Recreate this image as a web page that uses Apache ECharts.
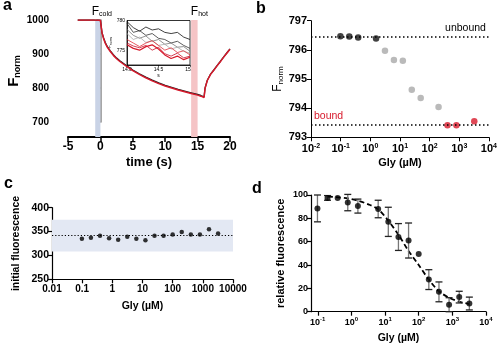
<!DOCTYPE html>
<html><head><meta charset="utf-8">
<script src="https://cdn.jsdelivr.net/npm/echarts@6/dist/echarts.min.js"></script>
<style>html,body{margin:0;padding:0;background:#fff}#c{width:500px;height:346px}</style>
</head><body><div id="c"></div>
<script>
// ---------- Panel a: traces ----------
const aTime  = [-3.5,-2,-1,0,0.25,0.5,0.75,1,1.5,2,2.5,3,4,5,6,7,8,9,10,11,12,13,14,15,15.5,16,16.15,16.5,17,17.5,18,18.5,19,19.5,20];
const aRed   = [1000,1000,1000,999,962,945,932,922,908,896,886,878,864,851,840,830,821,813,806,800,794,789,784,779,776,772,799,822,840,852,865,877,890,902,914];
const aBlack = [1000,1000,1000,999,963,947,934,924,910,898,888,880,866,853,842,832,823,815,808,802,796,791,786,781,778,774,800,823,841,853,866,878,891,903,915];
const aColdBand = [-0.8, 0];
const aHotBand  = [14, 15];
const aBandTop = 1000, aBandBottom = 656;
// ---------- Panel a: inset ----------
const insetT = [14.0,14.1,14.2,14.3,14.4,14.5,14.6,14.7,14.8,14.9,15.0];
const insetBlack1 = [779.8,778.8,778.2,778.9,778.4,778.6,778.0,777.8,778.0,777.2,776.8];
const insetBlack2 = [779.5,778.0,778.3,777.5,777.8,777.0,776.8,776.2,776.5,775.8,775.3];
const insetGray1  = [778.5,777.5,777.0,777.4,776.5,776.8,776.0,776.2,775.5,775.6,774.8];
const insetGray2  = [777.8,776.8,777.2,776.3,776.6,775.8,776.0,775.2,775.5,774.8,774.5];
const insetRed1   = [776.8,776.2,775.6,776.2,776.6,775.8,775.0,775.4,774.6,774.9,774.2];
const insetRed2   = [776.2,775.7,775.4,775.8,775.0,775.5,774.4,774.0,774.5,773.7,774.0];
const insetRed3   = [775.9,775.3,775.0,775.6,775.9,775.2,774.2,773.6,774.0,773.4,773.8];
// ---------- Panel b ----------
const bBlackX = [0.098,0.195,0.39,1.56];
const bBlackY = [796.47,796.46,796.42,796.39];
const bGrayX  = [3.125,6.25,12.5,25,50,200];
const bGrayY  = [795.97,795.65,795.63,794.63,794.35,794.04];
const bRedX   = [400,800,3200];
const bRedY   = [793.41,793.41,793.55];
const bUnbound = 796.45, bBound = 793.42;
// ---------- Panel c ----------
const cConc = [0.098,0.195,0.39,0.78,1.56,3.125,6.25,12.5,25,50,100,200,400,800,1600,3200];
const cVal  = [335,337,341,336,333,339,335,332,341,341,344,349,344,344,355,346];
const cMean = 341.5, cBandLow = 308, cBandHigh = 375;
// ---------- Panel d ----------
const dConc = [0.098,0.195,0.39,0.78,1.56,6.25,12.5,25,50,100,200,400,800,1600,3200];
const dVal  = [88.5,97.5,97.5,93.5,90.5,88,77,64,61,49.5,27.5,17,6,12.5,7];
const dErr  = [11.5,2,0,7,6,7.5,12.5,11.5,15,0,8.5,8.5,6,5,5.5];
const dFitX = [0.2,0.4,0.8,1.6,3.2,6.4,12.5,25,50,100,200,400,800,1600,3200];
const dFitY = [98.7,98,97,95,92,87.5,78,66,52,40,27.5,17.5,12,8.6,6.6];

const FONT = '"Liberation Sans", Arial, Helvetica, sans-serif';
const zip = (x, y) => x.map((v, i) => [v, y[i]]);
const expOf = v => Math.log10(v);
const supFmt = v => { const e = expOf(v); const r = Math.round(e); if (Math.abs(e - r) > 0.01) return ''; return '10{sup|' + r + '}'; };
const plainLogFmt = v => { const r = Math.round(expOf(v)); return r >= 0 ? String(Math.pow(10, r)) : Math.pow(10, r).toFixed(-r); };
const intFmt = v => String(Math.round(v));

const chart = echarts.init(document.getElementById('c'), null, {renderer: 'canvas', width: 500, height: 346});

const bold = (size) => ({fontFamily: FONT, fontWeight: 'bold', fontSize: size, color: '#000'});

const option = {
  animation: false,
  backgroundColor: '#fff',
  textStyle: {fontFamily: FONT},
  title: [
    {text: 'a', left: 3, top: -2, padding: 0, textStyle: bold(16)},
    {text: 'b', left: 256, top: 1, padding: 0, textStyle: bold(16)},
    {text: 'c', left: 4, top: 176, padding: 0, textStyle: bold(16)},
    {text: 'd', left: 252, top: 181, padding: 0, textStyle: bold(16)}
  ],
  grid: [
    {left: 68, right: 270, top: 20, bottom: 224},
    {left: 68, right: 270, top: 20, bottom: 209},
    {left: 127, right: 310, top: 20.5, bottom: 281, show: true, borderColor: '#000', borderWidth: 0.8, backgroundColor: 'rgba(255,255,255,0)'},
    {left: 311, right: 9, top: 20.7, bottom: 208.7},
    {left: 52, right: 267, top: 207.7, bottom: 66.7},
    {left: 311, right: 14, top: 195, bottom: 34.3}
  ],
  xAxis: [
    {gridIndex: 0, type: 'value', min: -5, max: 20, interval: 5, offset: 15,
     axisLine: {lineStyle: {color: '#000', width: 2}}, axisTick: {length: 5, lineStyle: {color: '#000', width: 1.5}},
     axisLabel: Object.assign(bold(12), {margin: 4}), splitLine: {show: false},
     name: 'time (s)', nameLocation: 'middle', nameGap: 19, nameTextStyle: bold(13)},
    {gridIndex: 1, type: 'value', min: -5, max: 20, show: false},
    {gridIndex: 2, type: 'value', min: 14, max: 15, interval: 0.5,
     axisLine: {lineStyle: {color: '#000', width: 0.8}}, axisTick: {length: 2, lineStyle: {color: '#000', width: 0.6}},
     axisLabel: {fontFamily: FONT, fontSize: 5, color: '#000', margin: 2, formatter: v => v.toFixed(1)}, splitLine: {show: false},
     name: 's', nameLocation: 'middle', nameGap: 8, nameTextStyle: {fontFamily: FONT, fontSize: 5, color: '#000'}},
    {gridIndex: 3, type: 'log', logBase: 10, min: 0.01, max: 10000,
     axisLine: {lineStyle: {color: '#000', width: 1}}, axisTick: {length: 4, lineStyle: {color: '#000'}},
     axisLabel: Object.assign(bold(11), {margin: 5, formatter: supFmt, rich: {sup: {fontFamily: FONT, fontWeight: 'bold', fontSize: 7, color: '#000', padding: [0, 0, 7, 0]}}}),
     splitLine: {show: false}, minorTick: {show: false},
     name: 'Gly (µM)', nameLocation: 'middle', nameGap: 20, nameTextStyle: bold(11)},
    {gridIndex: 4, type: 'log', logBase: 10, min: 0.01, max: 10000,
     axisLine: {lineStyle: {color: '#000', width: 1.2}}, axisTick: {length: 4, lineStyle: {color: '#000', width: 1.2}},
     axisLabel: Object.assign(bold(10), {margin: 5, formatter: plainLogFmt}), splitLine: {show: false},
     name: 'Gly (µM)', nameLocation: 'middle', nameGap: 21, nameTextStyle: bold(10.5)},
    {gridIndex: 5, type: 'log', logBase: 10, min: 0.063, max: 10000,
     axisLine: {lineStyle: {color: '#000', width: 1.2}}, axisTick: {length: 4, lineStyle: {color: '#000', width: 1.2}},
     axisLabel: Object.assign(bold(9), {margin: 5, formatter: supFmt, showMinLabel: false, rich: {sup: {fontFamily: FONT, fontWeight: 'bold', fontSize: 6, color: '#000', padding: [0, 0, 6, 0]}}}),
     splitLine: {show: false},
     name: 'Gly (µM)', nameLocation: 'middle', nameGap: 21, nameTextStyle: bold(10.5)}
  ],
  yAxis: [
    {gridIndex: 0, type: 'value', min: 700, max: 1000, interval: 100, offset: 16,
     axisLine: {show: true, lineStyle: {color: '#8a8a8a', width: 1.5}}, axisTick: {show: true, length: 4, lineStyle: {color: '#8a8a8a', width: 1.5}},
     axisLabel: Object.assign(bold(10), {margin: 3, formatter: intFmt}), splitLine: {show: false},
     name: 'F{sub|norm}', nameLocation: 'middle', nameGap: 30,
     nameTextStyle: Object.assign(bold(15), {rich: {sub: {fontFamily: FONT, fontWeight: 'bold', fontSize: 9, color: '#000', padding: [7, 0, 0, 0]}}})},
    {gridIndex: 1, type: 'value', min: aBandBottom, max: aBandTop, show: false},
    {gridIndex: 2, type: 'value', min: 772.5, max: 780, interval: 0.5,
     axisLine: {show: true, lineStyle: {color: '#000', width: 0.8}}, axisTick: {show: false},
     axisLabel: {fontFamily: FONT, fontSize: 5, color: '#000', margin: 2, formatter: v => (Math.abs(v - 775) < 1e-6 || Math.abs(v - 780) < 1e-6) ? String(v) : ''},
     splitLine: {show: false},
     name: 'F{sub|norm}', nameLocation: 'middle', nameGap: 9,
     nameTextStyle: {fontFamily: FONT, fontSize: 5, color: '#000', rich: {sub: {fontFamily: FONT, fontSize: 3.5, color: '#000', padding: [3, 0, 0, 0]}}}},
    {gridIndex: 3, type: 'value', min: 793, max: 797, interval: 1,
     axisLine: {show: true, lineStyle: {color: '#000', width: 1}}, axisTick: {show: true, length: 4, lineStyle: {color: '#000'}},
     axisLabel: Object.assign(bold(11), {margin: 4, formatter: intFmt}), splitLine: {show: false},
     name: 'F{sub|norm}', nameLocation: 'middle', nameGap: 26,
     nameTextStyle: {fontFamily: FONT, fontSize: 12, color: '#000', rich: {sub: {fontFamily: FONT, fontSize: 8, color: '#000', padding: [6, 0, 0, 0]}}}},
    {gridIndex: 4, type: 'value', min: 250, max: 400, interval: 50,
     axisLine: {show: true, lineStyle: {color: '#000', width: 1.2}}, axisTick: {show: true, length: 4, lineStyle: {color: '#000', width: 1.2}},
     axisLabel: Object.assign(bold(10.5), {margin: 3}), splitLine: {show: false},
     name: 'initial fluorescence', nameLocation: 'middle', nameGap: 30, nameTextStyle: bold(10.5)},
    {gridIndex: 5, type: 'value', min: 0, max: 100, interval: 20,
     axisLine: {show: true, lineStyle: {color: '#000', width: 1.2}}, axisTick: {show: true, length: 4, lineStyle: {color: '#000', width: 1.2}},
     axisLabel: Object.assign(bold(9), {margin: 3}), splitLine: {show: false},
     name: 'relative fluorescence', nameLocation: 'middle', nameGap: 25, nameTextStyle: bold(11)}
  ],
  series: [
    // panel a bands
    {type: 'line', xAxisIndex: 1, yAxisIndex: 1, z: 0, data: [[-5, aBandBottom]], symbol: 'none', lineStyle: {opacity: 0}, silent: true,
     markArea: {silent: true, data: [
       [{xAxis: aColdBand[0], yAxis: aBandTop, itemStyle: {color: '#c9d3e6'},
         label: {show: true, position: 'top', distance: 2, offset: [4, 0], formatter: 'F{sub|cold}', fontFamily: FONT, fontSize: 12, color: '#000',
                 rich: {sub: {fontFamily: FONT, fontSize: 7, color: '#000', padding: [6, 0, 0, 0]}}}},
        {xAxis: aColdBand[1], yAxis: aBandBottom}],
       [{xAxis: aHotBand[0], yAxis: aBandTop, itemStyle: {color: '#f5c4c6'},
         label: {show: true, position: 'top', distance: 2, offset: [5, 0], formatter: 'F{sub|hot}', fontFamily: FONT, fontSize: 12, color: '#000',
                 rich: {sub: {fontFamily: FONT, fontSize: 7, color: '#000', padding: [6, 0, 0, 0]}}}},
        {xAxis: aHotBand[1], yAxis: aBandBottom}]
     ]}},
    {type: 'line', xAxisIndex: 0, yAxisIndex: 0, z: 3, data: zip(aTime, aBlack), symbol: 'none', lineStyle: {color: '#222', width: 1.3}},
    {type: 'line', xAxisIndex: 0, yAxisIndex: 0, z: 4, data: zip(aTime, aRed), symbol: 'none', lineStyle: {color: '#d7192b', width: 1.5}},
    // inset
    {type: 'line', xAxisIndex: 2, yAxisIndex: 2, data: zip(insetT, insetBlack1), symbol: 'none', lineStyle: {color: '#111', width: 0.8}},
    {type: 'line', xAxisIndex: 2, yAxisIndex: 2, data: zip(insetT, insetBlack2), symbol: 'none', lineStyle: {color: '#333', width: 0.8}},
    {type: 'line', xAxisIndex: 2, yAxisIndex: 2, data: zip(insetT, insetGray1), symbol: 'none', lineStyle: {color: '#777', width: 0.8}},
    {type: 'line', xAxisIndex: 2, yAxisIndex: 2, data: zip(insetT, insetGray2), symbol: 'none', lineStyle: {color: '#aaa', width: 0.8}},
    {type: 'line', xAxisIndex: 2, yAxisIndex: 2, data: zip(insetT, insetRed1), symbol: 'none', lineStyle: {color: '#e0303a', width: 0.8}},
    {type: 'line', xAxisIndex: 2, yAxisIndex: 2, data: zip(insetT, insetRed2), symbol: 'none', lineStyle: {color: '#c8102a', width: 0.8}},
    {type: 'line', xAxisIndex: 2, yAxisIndex: 2, data: zip(insetT, insetRed3), symbol: 'none', lineStyle: {color: '#d7192b', width: 1.2}},
    // panel b
    {type: 'line', xAxisIndex: 3, yAxisIndex: 3, data: [], symbol: 'none',
     markLine: {silent: true, symbol: 'none', animation: false, data: [
       {yAxis: bUnbound, lineStyle: {type: [1.5, 2.5], color: '#000', width: 1.5},
        label: {show: true, position: 'insideEndTop', distance: 3, formatter: 'unbound', fontFamily: FONT, fontSize: 10.5, color: '#000'}},
       {yAxis: bBound, lineStyle: {type: [1.5, 2.5], color: '#000', width: 1.5},
        label: {show: true, position: 'insideStartTop', distance: 3, formatter: 'bound', fontFamily: FONT, fontSize: 10.5, color: '#d7192b'}}
     ]}},
    {type: 'scatter', xAxisIndex: 3, yAxisIndex: 3, data: zip(bBlackX, bBlackY), symbolSize: 6.5, itemStyle: {color: '#111'}},
    {type: 'scatter', xAxisIndex: 3, yAxisIndex: 3, data: zip(bGrayX, bGrayY), symbolSize: 6.5, itemStyle: {color: '#a9a9a9'}},
    {type: 'scatter', xAxisIndex: 3, yAxisIndex: 3, data: zip(bRedX, bRedY), symbolSize: 6.5, itemStyle: {color: '#d7192b'}},
    // panel c
    {type: 'scatter', xAxisIndex: 4, yAxisIndex: 4, data: zip(cConc, cVal), symbolSize: 4.5, itemStyle: {color: '#000'}, z: 5,
     markArea: {silent: true, itemStyle: {color: '#e3e8f3'}, data: [[{yAxis: cBandHigh}, {yAxis: cBandLow}]]},
     markLine: {silent: true, symbol: 'none', label: {show: false}, data: [{yAxis: cMean}], lineStyle: {type: [1.2, 2], color: '#000', width: 1.2}}},
    // panel d
    {type: 'line', xAxisIndex: 5, yAxisIndex: 5, data: zip(dFitX, dFitY), symbol: 'none', smooth: 0.3,
     lineStyle: {color: '#000', width: 1.8, type: [5, 3]}},
    {type: 'custom', xAxisIndex: 5, yAxisIndex: 5, data: dConc.map((c, i) => [c, dVal[i], dErr[i]]),
     encode: {x: 0, y: 1}, z: 4,
     renderItem: (params, api) => {
       const x = api.value(0), y = api.value(1), e = api.value(2);
       if (!e) return {type: 'group', children: []};
       const t = api.coord([x, y + e]), b = api.coord([x, y - e]);
       const cap = 3.5;
       return {type: 'group', children: [
         {type: 'line', shape: {x1: t[0], y1: t[1], x2: b[0], y2: b[1]}, style: {stroke: '#777', lineWidth: 1.3}},
         {type: 'line', shape: {x1: t[0] - cap, y1: t[1], x2: t[0] + cap, y2: t[1]}, style: {stroke: '#222', lineWidth: 1.3}},
         {type: 'line', shape: {x1: b[0] - cap, y1: b[1], x2: b[0] + cap, y2: b[1]}, style: {stroke: '#222', lineWidth: 1.3}}
       ]};
     }},
    {type: 'scatter', xAxisIndex: 5, yAxisIndex: 5, data: zip(dConc, dVal), symbolSize: 6, itemStyle: {color: '#000'}, z: 5}
  ]
};
chart.setOption(option);
</script>
</body></html>
